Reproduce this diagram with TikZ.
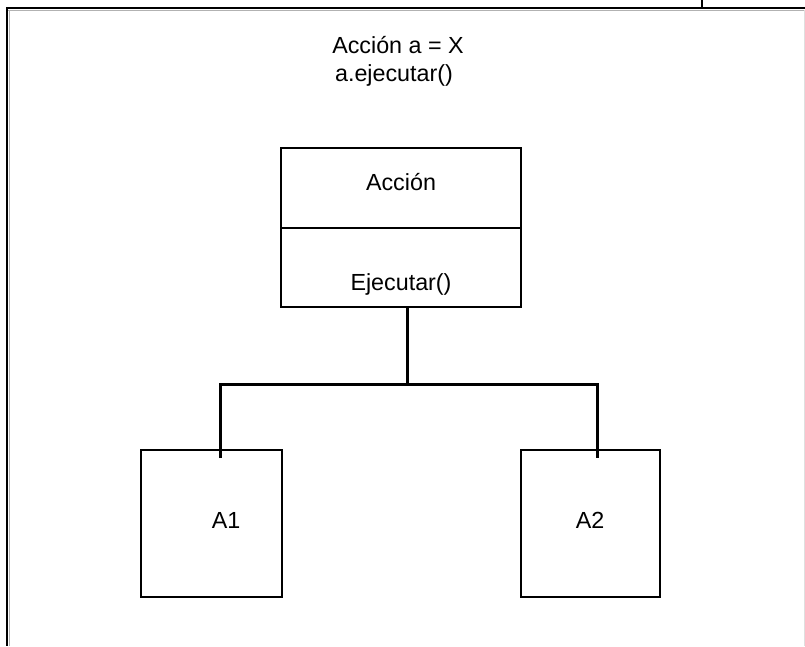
\documentclass[tikz,border=0pt]{standalone}
\usepackage{fontspec}
\setmainfont{Liberation Sans}
\begin{document}
\begin{tikzpicture}[x=1pt,y=-1pt,
  classbox/.style={draw=black, line width=1.3pt, inner sep=0pt},
  lbl/.style={font=\fontsize{23.3}{26}\selectfont, inner sep=0pt},
  conn/.style={draw=black, line width=3pt}]
\useasboundingbox (0,0) rectangle (805,646);
% frame
\draw[line width=2.2pt] (6,8) -- (805,8);
\draw[gray!60, line width=1pt] (8,10.5) -- (805,10.5);
\draw[line width=2.2pt] (7,8) -- (7,646);
\draw[gray!60, line width=1pt] (9.5,10) -- (9.5,646);
\draw[line width=2pt] (702,0) -- (702,8);
\draw[gray!25, line width=0.8pt] (804,10) -- (804,646);
% top texts
\node[lbl] (t1) at (398,45) {Acción a = X};
\node[lbl] (t2) at (394,75) {a.ejecutar()};
% main class box
\node[classbox, minimum width=240, minimum height=80] (hdr) at (401,188) {};
\node[classbox, minimum width=240, minimum height=79] (body) at (401,267.5) {};
\node[lbl] (hdrt) at (401,182) {Acción};
\node[lbl] (bodyt) at (401,284) {Ejecutar()};
% subclasses
\node[classbox, minimum width=141, minimum height=147] (a1) at (211.5,523.5) {};
\node[classbox, minimum width=139, minimum height=147] (a2) at (590.5,523.5) {};
\node[lbl] (a1t) at (226,520) {A1};
\node[lbl] (a2t) at (590,520) {A2};
% connectors
\coordinate (s) at (407,307);
\coordinate (j) at (407,384);
\coordinate (e1) at (220,458);
\coordinate (e2) at (597,458);
\draw[conn] (s) -- (j);
\draw[conn] (e1) |- (j) -| (e2);
\end{tikzpicture}
\end{document}
